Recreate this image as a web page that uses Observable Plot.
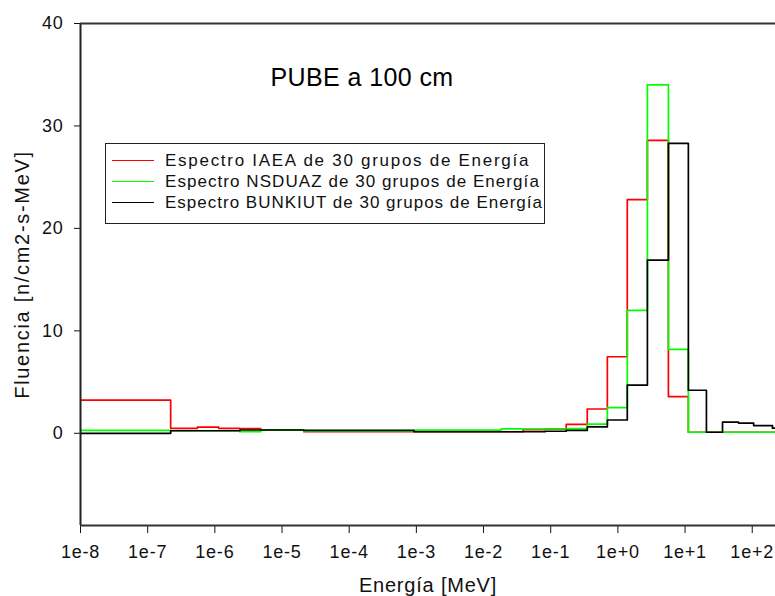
<!DOCTYPE html>
<html>
<head>
<meta charset="utf-8">
<script src="https://cdn.jsdelivr.net/npm/d3@7"></script>
<script src="https://cdn.jsdelivr.net/npm/@observablehq/plot@0.6"></script>
<style>
  html, body { margin: 0; padding: 0; background: #fff; }
  #wrap { position: relative; width: 775px; height: 596px; overflow: hidden; font-family: "Liberation Sans", Arial, sans-serif; }
  #legend { position: absolute; left: 105px; top: 143px; width: 438px; height: 79px; border: 1.5px solid #222; background: #fff; }
  .row { position: absolute; left: 0; width: 438px; height: 20px; }
  .sw { position: absolute; left: 6px; top: 9px; width: 42px; height: 0; border-top: 1.6px solid; }
  .lt { position: absolute; left: 59px; top: 0; white-space: nowrap; font-size: 17px; color: #111; line-height: 20px; }
</style>
</head>
<body>
<div id="wrap"></div>
<script>
// ---- data ----
const title = "PUBE a 100 cm";
const xLabel = "Energía [MeV]";
const yLabel = "Fluencia [n/cm2-s-MeV]";
const seriesNames = [
  "Espectro IAEA de 30 grupos de Energía",
  "Espectro NSDUAZ de 30 grupos de Energía",
  "Espectro BUNKIUT de 30 grupos de Energía"
];
const seriesColors = ["#ff0000", "#00ff00", "#000000"];
// bin edges (MeV)
const edges = [1e-8, 2.2e-7, 5.5e-7, 1.14e-6, 2.35e-6, 4.83e-6, 2.11e-5, 9.2e-4, 1.83e-2, 3.89e-2, 8.28e-2,
               0.170, 0.350, 0.697, 1.38, 2.75, 5.65, 11.2, 20.8, 36.1, 62.5, 105, 200, 400];
const iaea    = [3.24, 0.49, 0.61, 0.49, 0.45, 0.30, 0.16, 0.15, 0.15, 0.35, 0.40, 0.88, 2.37, 7.47, 22.8, 28.6, 3.57, 0.10, 0.10, 0.10, 0.10, 0.10, 0.10];
const nsduaz  = [0.29, 0.25, 0.25, 0.25, 0.15, 0.30, 0.20, 0.30, 0.44, 0.42, 0.42, 0.45, 0.90, 2.50, 12.0, 34.0, 8.2, 0.10, 0.10, 0.10, 0.10, 0.10, 0.10];
const bunkiut = [0.00, 0.25, 0.25, 0.25, 0.32, 0.32, 0.28, 0.15, 0.15, 0.15, 0.20, 0.28, 0.62, 1.30, 4.70, 16.9, 28.3, 4.20, 0.10, 1.10, 1.00, 0.75, 0.50];
const xTicks = [1e-8, 1e-7, 1e-6, 1e-5, 1e-4, 1e-3, 1e-2, 1e-1, 1e0, 1e1, 1e2];
const xTickLabels = ["1e-8", "1e-7", "1e-6", "1e-5", "1e-4", "1e-3", "1e-2", "1e-1", "1e+0", "1e+1", "1e+2"];
const yTicks = [0, 10, 20, 30, 40];
const xDomain = [1e-8, 222];
const yDomain = [-9, 40];

// ---- build step series ----
function steps(vals, name) {
  const pts = vals.map((v, i) => ({x: edges[i], y: v, s: name}));
  pts.push({x: edges[vals.length], y: vals[vals.length - 1], s: name});
  return pts;
}
const allSeries = [iaea, nsduaz, bunkiut];

const font = '"Liberation Sans", Arial, sans-serif';
const chart = Plot.plot({
  width: 775,
  height: 596,
  marginLeft: 80,
  marginRight: 0,
  marginTop: 23,
  marginBottom: 71,
  style: {fontFamily: font, fontSize: "18px", color: "#111", background: "#fff", overflow: "hidden"},
  x: {type: "log", domain: xDomain, ticks: xTicks, tickFormat: d => xTickLabels[xTicks.indexOf(d)], tickSize: 8, tickPadding: 12, label: null},
  y: {domain: yDomain, ticks: yTicks, tickSize: 6, tickPadding: 11, label: null},
  marks: [
    ...allSeries.map((vals, k) => Plot.line(steps(vals, seriesNames[k]), {
      x: "x", y: "y", curve: "step-after", stroke: seriesColors[k], strokeWidth: 1.7, clip: true
    })),
    Plot.ruleX([xDomain[0]], {stroke: "#222", strokeWidth: 2}),
    Plot.ruleY([yDomain[0]], {stroke: "#333", strokeWidth: 2}),
    Plot.ruleY([yDomain[1]], {stroke: "#333", strokeWidth: 2}),
    Plot.text([title], {frameAnchor: "top", dx: -66, dy: 54, text: d => d, fontSize: 25, fill: "#000", lineAnchor: "middle", textAnchor: "middle", className: "ttl"}),
    Plot.text([xLabel], {frameAnchor: "bottom", dy: 60, text: d => d, fontSize: 20, fill: "#111", lineAnchor: "middle", textAnchor: "middle"}),
    Plot.text([yLabel], {frameAnchor: "left", dx: -58, rotate: -90, text: d => d, fontSize: 20, fill: "#111", lineAnchor: "middle", textAnchor: "middle", className: "ylab"})
  ]
});
const wrap = document.getElementById("wrap");
wrap.appendChild(chart);
// letter spacing to mimic the wide tracking of the reference
chart.querySelectorAll("text").forEach(t => { t.style.letterSpacing = "0.8px"; });
chart.querySelectorAll(".ylab text").forEach(t => { t.style.letterSpacing = "1.7px"; });
chart.querySelectorAll(".ttl text").forEach(t => { t.style.letterSpacing = "0.4px"; });

// ---- legend (HTML overlay) ----
const legend = document.createElement("div");
legend.id = "legend";
wrap.appendChild(legend);
const rowCenters = [161, 182, 203.5];   // page y of each row centre
const rowTargets = [365, 375, 378];     // text widths in the reference
seriesNames.forEach((name, k) => {
  const row = document.createElement("div");
  row.className = "row";
  row.style.top = (rowCenters[k] - 143 - 1.5 - 10) + "px";
  const sw = document.createElement("div");
  sw.className = "sw";
  sw.style.borderTopColor = seriesColors[k];
  const lt = document.createElement("div");
  lt.className = "lt";
  lt.textContent = name;
  row.appendChild(sw);
  row.appendChild(lt);
  legend.appendChild(row);
  const w = lt.getBoundingClientRect().width;
  const ls = (rowTargets[k] - w) / name.length;
  lt.style.letterSpacing = ls.toFixed(2) + "px";
});
</script>
</body>
</html>
